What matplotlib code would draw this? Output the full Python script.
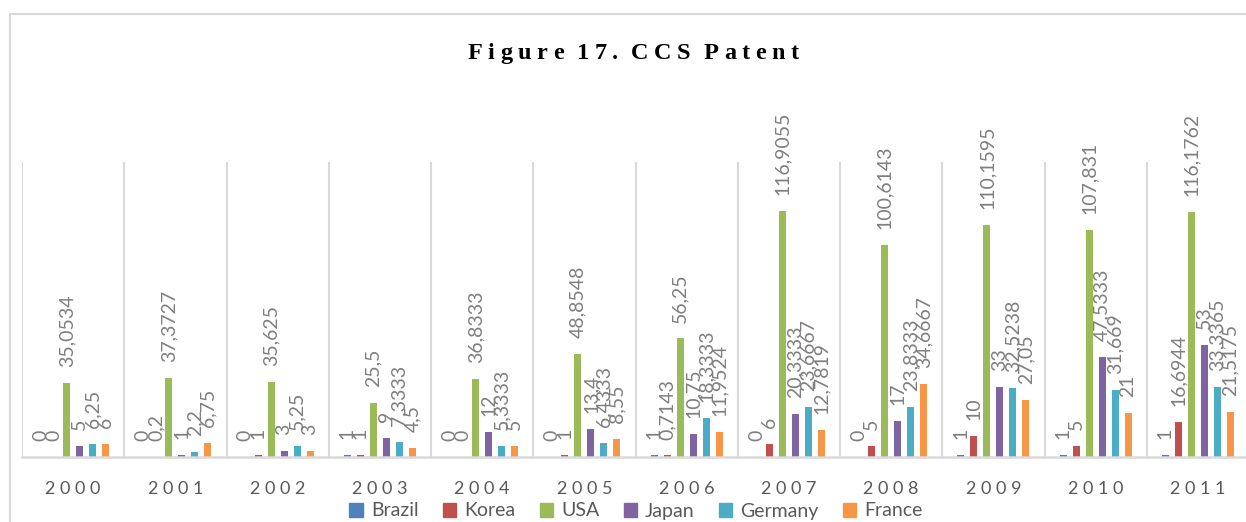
import matplotlib
matplotlib.use('Agg')
import matplotlib.pyplot as plt
import numpy as np
from matplotlib.patches import Patch, Rectangle

plt.rcParams['font.family'] = 'Lato'

# Dados
years = ['2000', '2001', '2002', '2003', '2004', '2005',
         '2006', '2007', '2008', '2009', '2010', '2011']
countries = ['Brazil', 'Korea', 'USA', 'Japan', 'Germany', 'France']

brazil = [0, 0, 0, 1, 0, 0, 1, 0, 0, 1, 1, 1]
korea = [0, 0.2, 1, 1, 0, 1, 0.7143, 6, 5, 10, 5, 16.6944]
usa = [35.0534, 37.3727, 35.625, 25.5, 36.8333, 48.8548,
       56.25, 116.9055, 100.6143, 110.1595, 107.831, 116.1762]
japan = [5, 1, 3, 9, 12, 13.4, 10.75, 20.3333, 17, 33, 47.5333, 53]
germany = [6.25, 2.2, 5.25, 7.3333, 5.3333, 6.4333,
           18.3333, 23.6667, 23.8333, 32.5238, 31.669, 33.3365]
france = [6, 6.75, 3, 4.5, 5, 8.55, 11.9524, 12.7819, 34.6667, 27.05, 21, 21.5175]

series = [brazil, korea, usa, japan, germany, france]
colors = ['#4F81BD', '#C0504D', '#9BBB59', '#8064A2', '#4BACC6', '#F79646']

W, H = 1246, 522
fig = plt.figure(figsize=(W / 100, H / 100), dpi=100)

# moldura externa do gráfico (cortada à direita e embaixo)
fig.patches.append(Rectangle((10 / W, -0.2), 1.2, 1 - 14 / H + 0.2,
                             transform=fig.transFigure, fill=False,
                             edgecolor='#d9d9d9', linewidth=1.5))

ax = fig.add_axes([22 / W, 1 - 457 / H, 1227 / W, 295 / H])
ax.set_xlim(-0.5, 11.5)
ax.set_ylim(0, 140)

x = np.arange(len(years))
step = 0.127
width = 0.068

# linhas de separação entre categorias
ax.vlines(np.arange(-0.5, 12, 1), 0, 140, color='#d9d9d9', linewidth=1.5, zorder=0)


def fmt(v):
    s = ('%.4f' % v).rstrip('0').rstrip('.')
    return s.replace('.', ',')


for k, (vals, col) in enumerate(zip(series, colors)):
    xs = x + (k - 2.5) * step
    ax.bar(xs, vals, width=width, color=col, zorder=2)
    for xi, v in zip(xs, vals):
        ax.annotate(fmt(v), (xi, v), xytext=(0, 11.5), textcoords='offset points',
                    rotation=90, ha='center', va='bottom', fontsize=14,
                    color='#7f7f7f')

for s in ['top', 'right', 'left']:
    ax.spines[s].set_visible(False)
ax.spines['bottom'].set_color('#d9d9d9')
ax.spines['bottom'].set_linewidth(1.8)
ax.set_yticks([])
ax.set_xticks(x)
ax.set_xticklabels([' '.join(y) for y in years], fontsize=13, color='#595959')
ax.tick_params(axis='x', length=0, pad=17)

# título com espaçamento entre letras
title = 'Figure 17. CCS Patent'
renderer = fig.canvas.get_renderer()
tkw = dict(fontsize=17.5, fontweight='bold', family='Liberation Serif', color='black')
track = 5.5
space = 7.5
widths = []
for ch in title:
    if ch == ' ':
        widths.append(space)
    else:
        t = fig.text(0, 0, ch, **tkw)
        widths.append(t.get_window_extent(renderer).width + track)
        t.remove()
total = sum(widths) - track
cur = 633 - total / 2
for ch, w in zip(title, widths):
    if ch != ' ':
        fig.text(cur / W, 1 - 59 / H, ch, ha='left', va='baseline', **tkw)
    cur += w

handles = [Patch(color=c) for c in colors]
fig.legend(handles, countries, ncol=6, loc='center',
           bbox_to_anchor=(636 / W, 1 - 511 / H), frameon=False,
           handlelength=0.7, handleheight=0.7, handletextpad=0.4,
           columnspacing=1.25, fontsize=14, labelcolor='#595959')

fig.savefig('out.png', dpi=100)
